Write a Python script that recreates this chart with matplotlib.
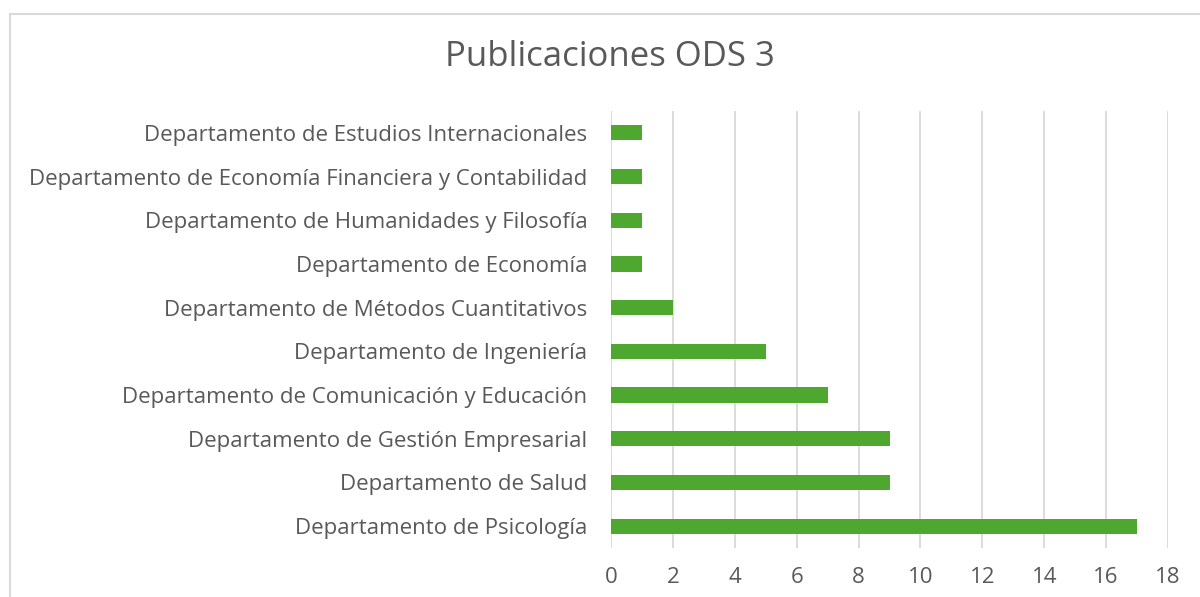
import numpy as np
import matplotlib.pyplot as plt
from matplotlib.lines import Line2D

# donnees (de bas en haut)
departamentos = [
    "Departamento de Psicología",
    "Departamento de Salud",
    "Departamento de Gestión Empresarial",
    "Departamento de Comunicación y Educación",
    "Departamento de Ingeniería",
    "Departamento de Métodos Cuantitativos",
    "Departamento de Economía",
    "Departamento de Humanidades y Filosofía",
    "Departamento de Economía Financiera y Contabilidad",
    "Departamento de Estudios Internacionales",
]
publicaciones = [17, 9, 9, 7, 5, 2, 1, 1, 1, 1]
xticks = [0, 2, 4, 6, 8, 10, 12, 14, 16, 18]

gris_texte = "#595959"
gris_grille = "#D9D9D9"
vert = "#4EA72E"

plt.rcParams['font.family'] = ['Open Sans', 'DejaVu Sans']

fig = plt.figure(figsize=(12, 5.97), dpi=100)
ax = fig.add_axes([611 / 1200, 1 - 548 / 597, (1168 - 611) / 1200, (548 - 111) / 597])

y = np.arange(len(departamentos))
ax.barh(y, publicaciones, height=0.35, color=vert, zorder=3)

ax.set_xlim(0, 18)
ax.set_ylim(-0.5, len(departamentos) - 0.5)
ax.set_xticks(xticks)
ax.set_xticklabels([str(t) for t in xticks])
ax.set_yticks(y)
ax.set_yticklabels(departamentos)
ax.tick_params(axis='both', length=0, labelsize=16, colors=gris_texte)
ax.tick_params(axis='y', pad=17)
ax.tick_params(axis='x', pad=14)
ax.grid(axis='x', color=gris_grille, linewidth=1.3, zorder=0)
for s in ax.spines.values():
    s.set_visible(False)

fig.text(610 / 1200, 1 - 57 / 597, "Publicaciones ODS 3", ha='center', va='center',
         fontsize=25, color=gris_texte)

# cadre du graphique (seulement haut et gauche visibles)
fig.add_artist(Line2D([10 / 1200, 10 / 1200], [0, 1 - 14 / 597], transform=fig.transFigure,
                      color=gris_grille, linewidth=1.5))
fig.add_artist(Line2D([10 / 1200, 1], [1 - 14 / 597, 1 - 14 / 597], transform=fig.transFigure,
                      color=gris_grille, linewidth=1.5))

fig.savefig("out.png", dpi=100)
